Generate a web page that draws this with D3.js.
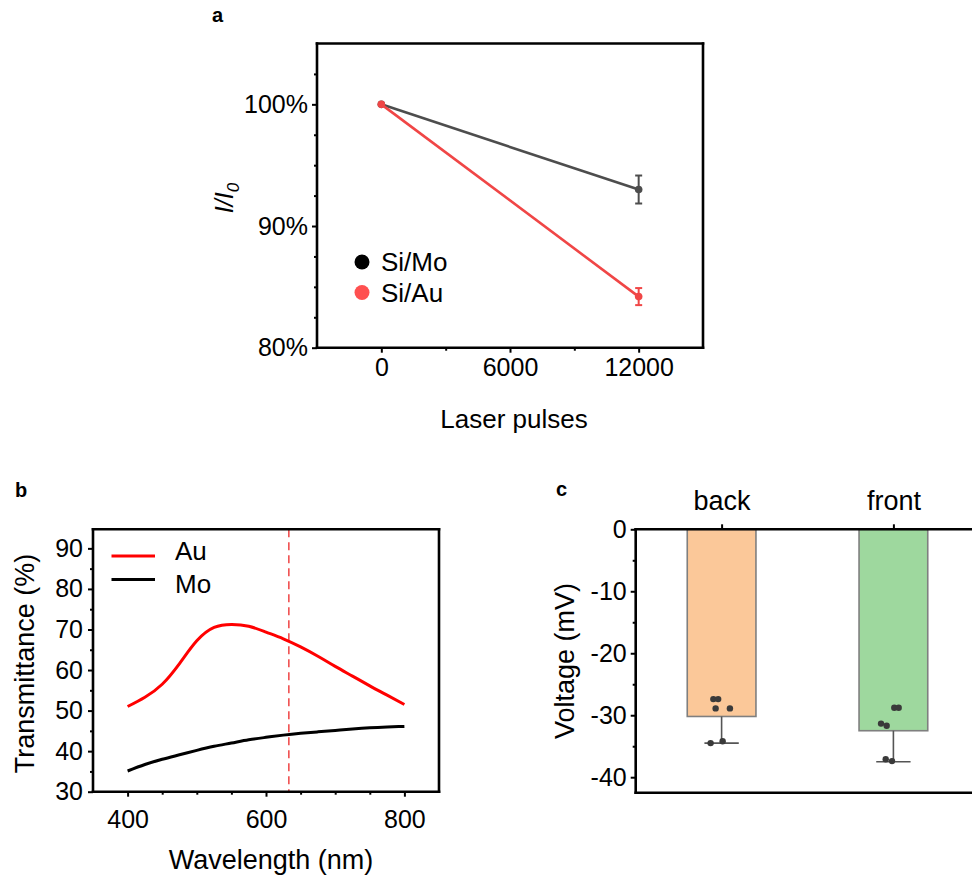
<!DOCTYPE html>
<html><head><meta charset="utf-8">
<script src="https://cdn.jsdelivr.net/npm/d3@7"></script>
<style>
body{margin:0;background:#fff}
svg{display:block}
text{font-family:Arial,"Liberation Sans",Helvetica,sans-serif;fill:#000}
</style>
</head><body>
<svg id="fig" width="972" height="880"></svg>
<script>
// ---------- Panel a data ----------
const pulses = [0, 12000];
const siMo = [100, 93.0];
const siMoErr = [0, 1.15];
const siAu = [100, 84.2];
const siAuErr = [0, 0.7];
const aXTicks = [0, 6000, 12000];
const aXMinor = [3000, 9000];
const aYTicks = [80, 90, 100];
const aYMinor = [82.5, 85, 87.5, 92.5, 95, 97.5, 102.5];
const aSeries = ["Si/Mo", "Si/Au"];

// ---------- Panel b data ----------
const wavelength = [400,425,450,475,500,525,550,575,600,625,650,675,700,725,750,775,800];
const auT = [51.0,53.3,56.5,61.6,67.2,70.5,71.25,70.8,69.35,67.7,65.7,63.4,60.9,58.5,56.1,53.8,51.5];
const moT = [35.1,36.7,38.0,39.1,40.2,41.2,42.0,42.8,43.4,43.95,44.4,44.76,45.1,45.45,45.75,45.95,46.1];
const laserWavelength = 633;
const bXTicks = [400, 600, 800];
const bXMinor = [450, 500, 550, 650, 700, 750];
const bYTicks = [30, 40, 50, 60, 70, 80, 90];
const bYMinor = [35, 45, 55, 65, 75, 85];
const bSeries = ["Au", "Mo"];

// ---------- Panel c data ----------
const faces = ["back", "front"];
const voltageMean = [-30.2, -32.5];
const voltageErr = [4.3, 5.0];
const backPoints = [-27.4, -27.4, -28.9, -28.9, -34.5, -34.2];
const frontPoints = [-28.8, -28.8, -31.35, -31.7, -37.1, -37.4];
const backJitter = [-0.12, -0.05, -0.087, 0.121, -0.16, 0.015];
const frontJitter = [0.013, 0.077, -0.18, -0.098, -0.112, -0.02];
const cYTicks = [0, -10, -20, -30, -40];
const cYMinor = [-5, -15, -25, -35];

const svg = d3.select("#fig");
const FS = 25;

function styleAxis(g, width) {
  g.select(".domain").remove();
  g.selectAll(".tick line").attr("stroke", "#000").attr("stroke-width", width || 2);
  g.selectAll(".tick text").attr("font-size", FS).attr("fill", "#000")
    .attr("font-family", 'Arial,"Liberation Sans",sans-serif');
}
function frame(x0, y0, x1, y1, sides) {
  const g = svg.append("g");
  const s = sides || "tlbr";
  const att = {stroke: "#000", "stroke-width": 2.6, "stroke-linecap": "square"};
  const add = (a, b, c, d) => { const l = g.append("line").attr("x1", a).attr("y1", b).attr("x2", c).attr("y2", d); for (const k in att) l.attr(k, att[k]); };
  if (s.includes("t")) add(x0, y0, x1, y0);
  if (s.includes("b")) add(x0, y1, x1, y1);
  if (s.includes("l")) add(x0, y0, x0, y1);
  if (s.includes("r")) add(x1, y0, x1, y1);
}

// ===================== Panel a =====================
{
  const L = 317, R = 703, T = 43.5, B = 347.7;
  const x = d3.scaleLinear().domain([-3000, 15000]).range([L, R]);
  const y = d3.scaleLinear().domain([80, 105]).range([B, T]);

  svg.append("text").attr("x", 212).attr("y", 22).attr("font-size", 20).attr("font-weight", "bold").text("a");

  const xa = svg.append("g").attr("transform", `translate(0,${B})`)
    .call(d3.axisBottom(x).tickValues(aXTicks).tickSize(5).tickPadding(6).tickFormat(d3.format("d")));
  styleAxis(xa);
  xa.selectAll(".tick text").attr("dy", "0.71em");
  const xm = svg.append("g").attr("transform", `translate(0,${B})`)
    .call(d3.axisBottom(x).tickValues(aXMinor).tickSize(3).tickFormat(""));
  styleAxis(xm);

  const ya = svg.append("g").attr("transform", `translate(${L},0)`)
    .call(d3.axisLeft(y).tickValues(aYTicks).tickSize(5).tickPadding(4).tickFormat(d => d + "%"));
  styleAxis(ya);
  const ym = svg.append("g").attr("transform", `translate(${L},0)`)
    .call(d3.axisLeft(y).tickValues(aYMinor).tickSize(3).tickFormat(""));
  styleAxis(ym);
  frame(L, T, R, B);

  svg.append("text").attr("x", (L + R) / 2 + 4).attr("y", 428).attr("text-anchor", "middle")
    .attr("font-size", 26).text("Laser pulses");
  const yl = svg.append("text").attr("transform", "translate(233,198) rotate(-90)")
    .attr("text-anchor", "middle").attr("font-size", FS).attr("font-style", "italic");
  yl.append("tspan").text("I/I");
  yl.append("tspan").attr("font-size", 17).attr("dy", 6).text("0");

  const series = [
    {name: aSeries[0], vals: siMo, err: siMoErr, color: "#4d4d4d", leg: "#000"},
    {name: aSeries[1], vals: siAu, err: siAuErr, color: "#f04646", leg: "#ff5050"}
  ];
  const line = d3.line().x((d, i) => x(pulses[i])).y(d => y(d));
  series.forEach(s => {
    svg.append("path").datum(s.vals).attr("d", line).attr("fill", "none")
      .attr("stroke", s.color).attr("stroke-width", 2.6);
    s.vals.forEach((v, i) => {
      if (s.err[i] > 0) {
        const g = svg.append("g").attr("stroke", s.color).attr("stroke-width", 2);
        g.append("line").attr("x1", x(pulses[i])).attr("x2", x(pulses[i]))
          .attr("y1", y(v - s.err[i])).attr("y2", y(v + s.err[i]));
        [v - s.err[i], v + s.err[i]].forEach(e => g.append("line")
          .attr("x1", x(pulses[i]) - 3.5).attr("x2", x(pulses[i]) + 3.5)
          .attr("y1", y(e)).attr("y2", y(e)));
      }
      svg.append("circle").attr("cx", x(pulses[i])).attr("cy", y(v)).attr("r", 3.8).attr("fill", s.color);
    });
  });
  series.forEach((s, i) => {
    const ly = 262 + i * 30.5;
    svg.append("circle").attr("cx", 362).attr("cy", ly).attr("r", 7.5).attr("fill", s.leg);
    svg.append("text").attr("x", 381).attr("y", ly + 9).attr("font-size", 26).text(s.name);
  });
}

// ===================== Panel b =====================
{
  const L = 93, R = 439, T = 529.3, B = 791.7;
  const x = d3.scaleLinear().domain([350, 850]).range([L, R]);
  const y = d3.scaleLinear().domain([30, 94.7]).range([B, T]);

  svg.append("text").attr("x", 15).attr("y", 497).attr("font-size", 20).attr("font-weight", "bold").text("b");

  const xa = svg.append("g").attr("transform", `translate(0,${B})`)
    .call(d3.axisBottom(x).tickValues(bXTicks).tickSize(5).tickPadding(14));
  styleAxis(xa);
  xa.selectAll(".tick text").attr("dy", "0.71em");
  const xm = svg.append("g").attr("transform", `translate(0,${B})`)
    .call(d3.axisBottom(x).tickValues(bXMinor).tickSize(3).tickFormat(""));
  styleAxis(xm);
  const ya = svg.append("g").attr("transform", `translate(${L},0)`)
    .call(d3.axisLeft(y).tickValues(bYTicks).tickSize(5).tickPadding(5));
  styleAxis(ya);
  const ym = svg.append("g").attr("transform", `translate(${L},0)`)
    .call(d3.axisLeft(y).tickValues(bYMinor).tickSize(3).tickFormat(""));
  styleAxis(ym);

  svg.append("line").attr("x1", x(laserWavelength)).attr("x2", x(laserWavelength))
    .attr("y1", T).attr("y2", B).attr("stroke", "#f05050").attr("stroke-width", 1.6)
    .attr("stroke-dasharray", "8,5");

  const line = d3.line().x((d, i) => x(wavelength[i])).y(d => y(d)).curve(d3.curveNatural);
  svg.append("path").datum(moT).attr("d", line).attr("fill", "none").attr("stroke", "#000").attr("stroke-width", 3);
  svg.append("path").datum(auT).attr("d", line).attr("fill", "none").attr("stroke", "#ff0000").attr("stroke-width", 3);

  frame(L, T, R, B);

  const lc = ["#ff0000", "#000"];
  bSeries.forEach((n, i) => {
    const ly = 556 + i * 23.5;
    svg.append("line").attr("x1", 111.5).attr("x2", 155).attr("y1", ly).attr("y2", ly)
      .attr("stroke", lc[i]).attr("stroke-width", 3);
    svg.append("text").attr("x", 175).attr("y", ly + 4 + i * 9).attr("font-size", 26).text(n);
  });

  svg.append("text").attr("x", 271).attr("y", 869).attr("text-anchor", "middle")
    .attr("font-size", 27).text("Wavelength (nm)");
  svg.append("text").attr("transform", `translate(34,${(T + B) / 2 + 3}) rotate(-90)`)
    .attr("text-anchor", "middle").attr("font-size", 27).text("Transmittance (%)");
}

// ===================== Panel c =====================
{
  const L = 635.7, R = 979.3, T = 529.3, B = 792.7;
  const x = d3.scalePoint().domain(faces).range([L, R]).padding(0.5);
  const y = d3.scaleLinear().domain([-42.5, 0]).range([B, T]);
  const bw = 68.7;

  svg.append("text").attr("x", 556).attr("y", 496).attr("font-size", 20).attr("font-weight", "bold").text("c");

  const ya = svg.append("g").attr("transform", `translate(${L},0)`)
    .call(d3.axisLeft(y).tickValues(cYTicks).tickSize(5).tickPadding(4).tickFormat(d3.format("d")));
  styleAxis(ya);
  ya.selectAll(".tick text").text(d => d === 0 ? "0" : "-" + Math.abs(d));
  const ym = svg.append("g").attr("transform", `translate(${L},0)`)
    .call(d3.axisLeft(y).tickValues(cYMinor).tickSize(3).tickFormat(""));
  styleAxis(ym);
  const xa = svg.append("g").attr("transform", `translate(0,${T})`)
    .call(d3.axisTop(x).tickSize(5).tickPadding(14));
  styleAxis(xa);
  xa.selectAll(".tick text").attr("font-size", 27);

  const fills = ["#fbc899", "#9ed89e"];
  const pts = [backPoints, frontPoints];
  const jit = [backJitter, frontJitter];
  faces.forEach((f, i) => {
    const cx = x(f);
    svg.append("rect").attr("x", cx - bw / 2).attr("y", y(0)).attr("width", bw)
      .attr("height", y(voltageMean[i]) - y(0)).attr("fill", fills[i])
      .attr("stroke", "#7f7f7f").attr("stroke-width", 1.6);
    const lo = voltageMean[i] - voltageErr[i];
    svg.append("line").attr("x1", cx).attr("x2", cx).attr("y1", y(voltageMean[i])).attr("y2", y(lo))
      .attr("stroke", "#555").attr("stroke-width", 1.6);
    svg.append("line").attr("x1", cx - bw / 4).attr("x2", cx + bw / 4).attr("y1", y(lo)).attr("y2", y(lo))
      .attr("stroke", "#555").attr("stroke-width", 1.6);
    pts[i].forEach((v, k) => {
      svg.append("circle").attr("cx", cx + jit[i][k] * bw).attr("cy", y(v)).attr("r", 3.2).attr("fill", "#3a3a3a");
    });
  });

  frame(L, T, R, B);

  svg.append("text").attr("transform", `translate(574,${(T + B) / 2}) rotate(-90)`)
    .attr("text-anchor", "middle").attr("font-size", 27).text("Voltage (mV)");
}
</script>
</body></html>
